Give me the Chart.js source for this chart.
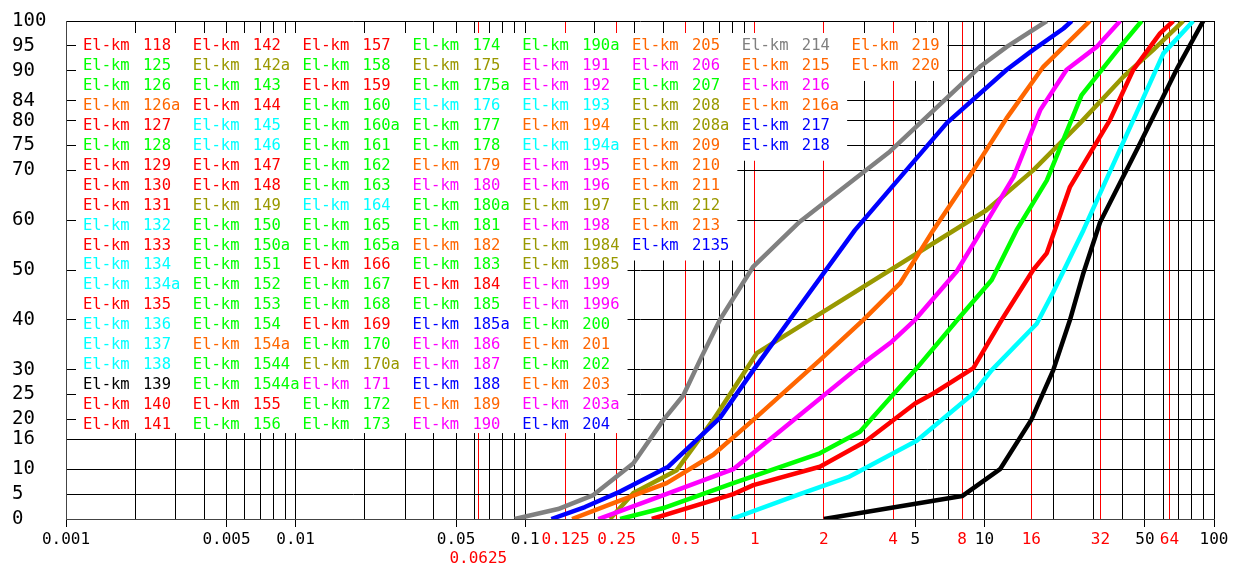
<!DOCTYPE html>
<html>
<head>
<meta charset="utf-8">
<script src="https://cdn.jsdelivr.net/npm/chart.js@4.4.0/dist/chart.umd.min.js"></script>
<style>
  html, body { margin: 0; padding: 0; background: #fff; }
  #chart { display: block; }
</style>
</head>
<body>
<canvas id="chart" width="1233" height="567"></canvas>
<script>
// percent passing (y) against grain size (x, log)
const percentTicks = [0, 5, 10, 16, 20, 25, 30, 40, 50, 60, 70, 75, 80, 84, 90, 95, 100];
const plainTickValues = [0.001, 0.005, 0.01, 0.05, 0.1, 5, 10, 50, 100];
const plainTickLabels = ['0.001', '0.005', '0.01', '0.05', '0.1', '5', '10', '50', '100'];
const sieveTickValues = [0.0625, 0.15, 0.25, 0.5, 1, 2, 4, 8, 16, 32, 64];
const sieveTickLabels = ['0.0625', '0.125', '0.25', '0.5', '1', '2', '4', '8', '16', '32', '64'];

const grayD = [0.090, 0.139, 0.198, 0.296, 0.40, 0.488, 0.587, 0.705, 0.985, 1.57, 3.88, 9.56, 12.5, 18.7];
const grayP = [0, 2, 4.8, 11.2, 19.9, 24.8, 32.6, 40, 50.7, 59.7, 73.8, 90.8, 94.8, 100];
const blueD = [0.130, 0.182, 0.259, 0.42, 0.705, 0.985, 1.42, 2.73, 6.85, 12.5, 16.3, 22.1, 24.0];
const blueP = [0, 2.4, 5.5, 10.5, 20.3, 29.9, 40, 58, 79.5, 90.2, 94.2, 98.5, 100];
const orangeD = [0.160, 0.242, 0.413, 0.659, 0.985, 1.92, 2.97, 4.29, 5.99, 8.95, 12.5, 18.05, 28.8];
const orangeP = [0, 3.2, 7.2, 12.9, 19.9, 31.9, 40, 47.3, 58, 70, 80.5, 90.8, 100];
const magentaD = [0.208, 0.242, 0.40, 0.806, 1.57, 2.97, 3.95, 4.99, 7.57, 9.73, 13.4, 17.5, 22.8, 30.8, 39.0];
const magentaP = [0, 1.1, 4.8, 10, 20.9, 31.3, 35.6, 40, 49.7, 58, 68.7, 82.1, 90.2, 94.8, 100];
const greenD = [0.259, 0.40, 0.806, 1.92, 2.87, 4.99, 7.83, 10.76, 13.8, 18.7, 26.5, 39.0, 48.4];
const greenP = [0, 2.2, 7.2, 13.2, 17.5, 29.9, 40.6, 48, 58, 68, 85.1, 94.8, 100];
const redD = [0.356, 0.806, 0.985, 1.92, 3.02, 4.99, 5.99, 8.95, 11.9, 16.3, 18.7, 23.6, 35.2, 44.5, 58.2, 66.5];
const redP = [0, 5, 6.8, 10.5, 15.5, 23.2, 25.2, 30.3, 40, 50, 53.4, 66.7, 80.1, 90.2, 97.5, 100];
const cyanD = [0.793, 1.57, 2.55, 5.07, 8.95, 10.76, 16.9, 19.95, 27.0, 44.5, 60.2, 81.2];
const cyanP = [0, 5, 8.4, 15.7, 25.2, 29.9, 39.2, 45.6, 58, 80.1, 93.5, 100];
const blackD = [2.0, 8.0, 11.7, 16.0, 19.95, 23.6, 27.0, 31.9, 47.6, 69.7, 89.8];
const blackP = [0, 4.6, 10, 19.9, 29.9, 40, 49.4, 59.6, 75.4, 90.8, 100];
const oliveD = [0.234, 0.296, 0.457, 0.659, 1.02, 10.2, 16.3, 26.1, 40.3, 54.4, 73.5];
const oliveP = [0, 5.2, 9.8, 19.9, 33.3, 62, 70, 79.5, 88.8, 94.2, 100];

const colorMap = {
  r: '#ff0000', g: '#00ff00', o: '#ff6600', c: '#00ffff', y: '#999900',
  m: '#ff00ff', b: '#0000ff', k: '#000000', a: '#808080'
};

// legend table, column by column
const legendNumbers = [
  ['118','125','126','126a','127','128','129','130','131','132','133','134','134a','135','136','137','138','139','140','141'],
  ['142','142a','143','144','145','146','147','148','149','150','150a','151','152','153','154','154a','1544','1544a','155','156'],
  ['157','158','159','160','160a','161','162','163','164','165','165a','166','167','168','169','170','170a','171','172','173'],
  ['174','175','175a','176','177','178','179','180','180a','181','182','183','184','185','185a','186','187','188','189','190'],
  ['190a','191','192','193','194','194a','195','196','197','198','1984','1985','199','1996','200','201','202','203','203a','204'],
  ['205','206','207','208','208a','209','210','211','212','213','2135'],
  ['214','215','216','216a','217','218'],
  ['219','220']
];
const legendColors = [
  ['r','g','g','o','r','g','r','r','r','c','r','c','c','r','c','c','c','k','r','r'],
  ['r','y','g','r','c','c','r','r','y','g','g','g','g','g','g','o','g','g','r','g'],
  ['r','g','r','g','g','g','g','g','c','g','g','r','g','g','r','g','y','m','g','g'],
  ['g','y','g','c','g','g','o','m','g','g','o','g','r','g','b','m','m','b','o','m'],
  ['g','m','m','c','o','c','m','m','y','m','y','y','m','m','g','o','g','o','m','b'],
  ['o','m','g','y','y','o','o','o','y','o','b'],
  ['a','o','m','o','b','b'],
  ['o','o']
];

const series = [
  { d: blackD, p: blackP, color: colorMap.k },
  { d: cyanD, p: cyanP, color: colorMap.c },
  { d: redD, p: redP, color: colorMap.r },
  { d: greenD, p: greenP, color: colorMap.g },
  { d: magentaD, p: magentaP, color: colorMap.m },
  { d: orangeD, p: orangeP, color: colorMap.o },
  { d: blueD, p: blueP, color: colorMap.b },
  { d: grayD, p: grayP, color: colorMap.a },
  { d: oliveD, p: oliveP, color: colorMap.y }
];

function same(a, b) { return Math.abs(a - b) <= 1e-9 * Math.max(a, b); }
function findIn(list, v) { return list.findIndex(x => same(x, v)); }

let xTicks = [];
for (let k = -3; k <= 1; k++) {
  for (let m = 1; m <= 9; m++) xTicks.push(Number((m * Math.pow(10, k)).toPrecision(4)));
}
xTicks.push(100);
sieveTickValues.forEach(v => { if (findIn(xTicks, v) < 0) xTicks.push(v); });
xTicks.sort((a, b) => a - b);

const legendBox = {
  id: 'legendBox',
  beforeDatasetsDraw(chart) {
    const ctx = chart.ctx;
    ctx.save();
    ctx.font = '15.5px "DejaVu Sans Mono"';
    ctx.textBaseline = 'middle';
    ctx.fillStyle = '#ffffff';
    legendNumbers.forEach((col, c) => {
      const x = 83 + c * 109.8;
      const widest = Math.max(...col.map(t => ctx.measureText(t).width));
      const bottom = 46 + (col.length - 1) * 19.95 + (col.length === 20 ? 8 : 15);
      ctx.fillRect(x - 7, 33, 60 + widest + 15, bottom - 33);
    });
    legendNumbers.forEach((col, c) => {
      const x = 83 + c * 109.8;
      col.forEach((t, r) => {
        const y = 46 + r * 19.95;
        ctx.fillStyle = colorMap[legendColors[c][r]];
        ctx.fillText('El-km', x, y);
        ctx.fillText(t, x + 60, y);
      });
    });
    ctx.restore();
  }
};

new Chart(document.getElementById('chart'), {
  type: 'scatter',
  data: {
    datasets: series.map(s => ({
      data: s.d.map((d, i) => ({ x: d, y: s.p[i] })),
      showLine: true,
      borderColor: s.color,
      backgroundColor: s.color,
      borderWidth: 4.5,
      pointRadius: 0,
      tension: 0,
      borderJoinStyle: 'round'
    }))
  },
  options: {
    responsive: false,
    animation: false,
    layout: { padding: { left: 12, right: 19, top: 21, bottom: 0 } },
    plugins: { legend: { display: false }, tooltip: { enabled: false } },
    scales: {
      x: {
        type: 'logarithmic',
        min: 0.001,
        max: 100,
        afterBuildTicks: s => { s.ticks = xTicks.map(v => ({ value: v })); },
        afterFit: s => { s.height = 48; },
        ticks: {
          autoSkip: false,
          maxRotation: 0,
          padding: 3,
          font: { family: 'DejaVu Sans Mono', size: 16 },
          color: ctx => findIn(sieveTickValues, ctx.tick.value) >= 0 ? '#ff0000' : '#000000',
          callback: v => {
            const si = findIn(sieveTickValues, v);
            if (si >= 0) return si === 0 ? ['', sieveTickLabels[si]] : sieveTickLabels[si];
            const pi = findIn(plainTickValues, v);
            return pi >= 0 ? plainTickLabels[pi] : '';
          }
        },
        grid: {
          lineWidth: 1,
          tickLength: 8,
          color: ctx => findIn(sieveTickValues, ctx.tick.value) >= 0 ? '#ff0000' : '#000000',
          tickColor: ctx => (findIn(plainTickValues, ctx.tick.value) >= 0 && findIn(sieveTickValues, ctx.tick.value) < 0) ? '#000000' : 'rgba(0,0,0,0)'
        },
        border: { color: '#444444' }
      },
      y: {
        type: 'linear',
        min: 0,
        max: 100,
        afterBuildTicks: s => { s.ticks = percentTicks.map(v => ({ value: v })); },
        afterFit: s => { s.width = 54; },
        ticks: {
          crossAlign: 'far',
          font: { family: 'DejaVu Sans Mono', size: 19 },
          color: '#000000'
        },
        grid: { color: '#000000', lineWidth: 1, drawTicks: false },
        border: { color: '#444444' }
      }
    }
  },
  plugins: [legendBox]
});
</script>
</body>
</html>
